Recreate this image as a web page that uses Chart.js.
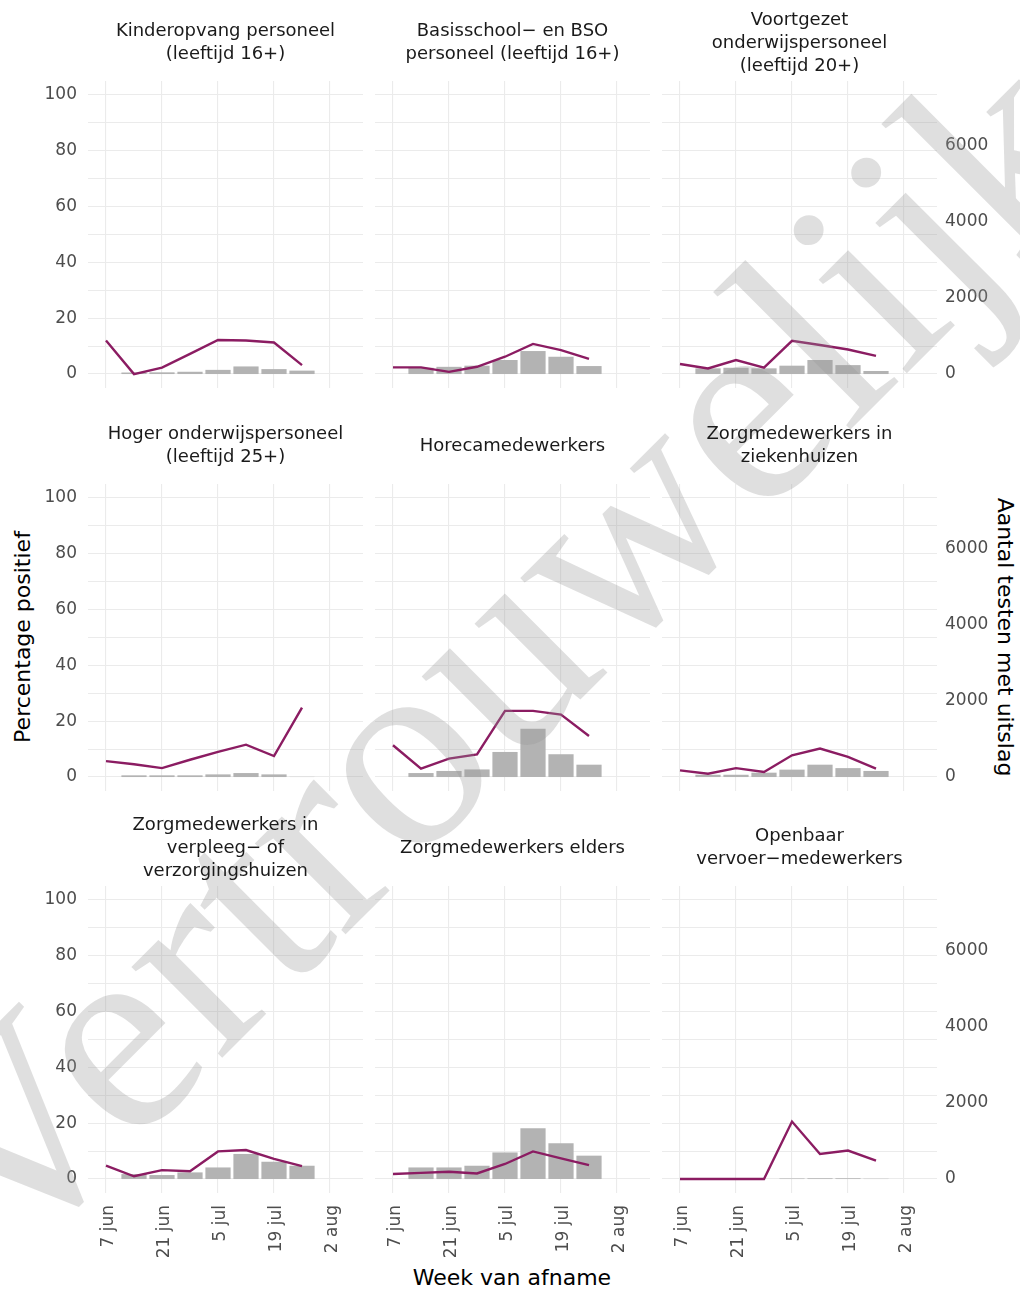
<!DOCTYPE html>
<html>
<head>
<meta charset="utf-8">
<script src="https://cdn.jsdelivr.net/npm/chart.js@4.4.1/dist/chart.umd.min.js"></script>
<style>
  body { margin: 0; background: #fff; width: 1020px; height: 1290px; position: relative; overflow: hidden; font-family: "DejaVu Sans", sans-serif; }
  canvas { position: absolute; }
  .strip { position: absolute; width: 320px; text-align: center; font-size: 18px; line-height: 23px; color: #1a1a1a; transform: translate(-50%, -50%); white-space: nowrap; }
  .axtitle { position: absolute; font-size: 22px; color: #000; white-space: nowrap; transform-origin: center; }
  #watermark { position: absolute; left: 0; top: 0; pointer-events: none; }
</style>
</head>
<body>
<div class="axtitle" style="left:22px; top:637px; transform: translate(-50%,-50%) rotate(-90deg);">Percentage positief</div>
<div class="axtitle" style="left:1005px; top:637px; transform: translate(-50%,-50%) rotate(90deg);">Aantal testen met uitslag</div>
<div class="axtitle" style="left:512px; top:1277px; transform: translate(-50%,-50%);">Week van afname</div>
<svg id="watermark" width="1020" height="1290">
  <text x="5" y="1275" transform="rotate(-45 5 1275)" font-family="Liberation Serif, Times New Roman, DejaVu Serif, serif" font-size="280" textLength="1571" lengthAdjust="spacingAndGlyphs" fill="rgba(150,150,150,0.3)">Vertrouwelijk</text>
</svg>
<script>
// weken in dagen na 7 juni
const weeks = [0, 7, 14, 21, 28, 35, 42, 49];
const xTickDays = [0, 14, 28, 42, 56];
const xTickLabels = ['7 jun', '21 jun', '5 jul', '19 jul', '2 aug'];
const pctGrid = [0, 10, 20, 30, 40, 50, 60, 70, 80, 90, 100];
const pctTicks = [0, 20, 40, 60, 80, 100];
const countTicks = [0, 2000, 4000, 6000];

const groups = [
  ['Kinderopvang personeel', '(leeftijd 16+)'],
  ['Basisschool\u2212 en BSO', 'personeel (leeftijd 16+)'],
  ['Voortgezet', 'onderwijspersoneel', '(leeftijd 20+)'],
  ['Hoger onderwijspersoneel', '(leeftijd 25+)'],
  ['Horecamedewerkers'],
  ['Zorgmedewerkers in', 'ziekenhuizen'],
  ['Zorgmedewerkers in', 'verpleeg\u2212 of', 'verzorgingshuizen'],
  ['Zorgmedewerkers elders'],
  ['Openbaar', 'vervoer\u2212medewerkers']
];

// percentage positief per week
const pctKinderopvang = [12.0, 0.0, 2.3, 7.2, 12.2, 12.0, 11.3, 3.2];
const pctBasisschool  = [2.4, 2.4, 0.8, 2.6, 6.2, 10.8, 8.6, 5.4];
const pctVoortgezet   = [3.6, 2.0, 5.0, 2.3, 11.9, 10.4, 8.8, 6.5];
const pctHoger        = [5.7, 4.6, 3.2, 6.2, 9.0, 11.6, 7.5, 24.9];
const pctHoreca       = [11.4, 3.0, 6.6, 8.1, 23.7, 23.7, 22.4, 14.7];
const pctZiekenhuis   = [2.4, 1.2, 3.2, 1.8, 7.8, 10.2, 7.2, 3.0];
const pctVVT          = [4.8, 1.0, 3.2, 2.8, 9.9, 10.4, 7.2, 4.6];
const pctZorgElders   = [1.8, 2.2, 2.6, 2.0, 5.4, 9.9, 7.4, 5.0];
const pctOV           = [0, 0, 0, 0, 20.6, 9.0, 10.2, 6.6];

// aantal testen met uitslag per week
const testsKinderopvang = [null, 40, 45, 60, 110, 200, 130, 90];
const testsBasisschool  = [null, 165, 190, 220, 370, 605, 455, 210];
const testsVoortgezet   = [null, 150, 165, 150, 220, 370, 235, 80];
const testsHoger        = [null, 45, 45, 45, 70, 105, 70, 5];
const testsHoreca       = [null, 105, 160, 200, 660, 1270, 600, 325];
const testsZiekenhuis   = [null, 60, 60, 115, 195, 325, 235, 160];
const testsVVT          = [null, 130, 105, 175, 305, 660, 455, 350];
const testsZorgElders   = [null, 305, 305, 350, 700, 1335, 940, 615];
const testsOV           = [null, 0, 0, 0, 15, 20, 20, 8];

const pctSeries = [pctKinderopvang, pctBasisschool, pctVoortgezet, pctHoger, pctHoreca, pctZiekenhuis, pctVVT, pctZorgElders, pctOV];
const testSeries = [testsKinderopvang, testsBasisschool, testsVoortgezet, testsHoger, testsHoreca, testsZiekenhuis, testsVVT, testsZorgElders, testsOV];

const FONT = 'DejaVu Sans';
const RATIO = 73.4; // tweede as: testen per procentpunt
const colLeft = [88, 375, 662];
const rowTop = [81, 484, 886];
const plotW = 275, plotH = 307, pad = 12;
const gridColor = '#ebebeb';

const noPad = s => { s.paddingTop = 0; s.paddingBottom = 0; s.paddingLeft = 0; s.paddingRight = 0; };

groups.forEach((title, i) => {
  const row = Math.floor(i / 3), col = i % 3;
  const axL = col === 0 ? 60 : 0;
  const axR = col === 2 ? 70 : 0;
  const axB = row === 2 ? 90 : 0;
  const w = plotW + 2 * pad + axL + axR;
  const h = plotH + 2 * pad + axB;

  const strip = document.createElement('div');
  strip.className = 'strip';
  strip.style.left = (colLeft[col] + plotW / 2) + 'px';
  strip.style.top = (rowTop[row] - 40) + 'px';
  strip.innerHTML = title.join('<br>');
  document.body.appendChild(strip);

  const canvas = document.createElement('canvas');
  canvas.width = w; canvas.height = h;
  canvas.style.width = w + 'px'; canvas.style.height = h + 'px';
  canvas.style.left = (colLeft[col] - pad - axL) + 'px';
  canvas.style.top = (rowTop[row] - pad) + 'px';
  document.body.insertBefore(canvas, document.getElementById('watermark'));

  new Chart(canvas, {
    data: {
      datasets: [
        {
          type: 'line',
          data: weeks.map((d, k) => ({ x: d, y: pctSeries[i][k] })),
          borderColor: '#8b1c62',
          borderWidth: 2.4,
          pointRadius: 0,
          tension: 0,
          yAxisID: 'y',
          order: 0
        },
        {
          type: 'bar',
          data: weeks.map((d, k) => ({ x: d, y: testSeries[i][k] })),
          backgroundColor: '#b3b3b3',
          barPercentage: 1,
          categoryPercentage: 0.9,
          yAxisID: 'y2',
          order: 1
        }
      ]
    },
    options: {
      responsive: false,
      animation: false,
      layout: { padding: { left: pad, right: pad, top: pad, bottom: pad } },
      plugins: { legend: { display: false }, tooltip: { enabled: false } },
      scales: {
        x: {
          type: 'linear',
          min: -4.5,
          max: 64.25,
          offset: false,
          grid: { color: gridColor, lineWidth: 1.1, drawTicks: false, offset: false },
          border: { display: false },
          afterBuildTicks: s => { s.ticks = xTickDays.map(v => ({ value: v })); },
          afterFit: s => { s.height = axB; noPad(s); },
          ticks: {
            display: row === 2,
            autoSkip: false,
            minRotation: 90,
            maxRotation: 90,
            padding: 12,
            labelOffset: 3,
            color: '#4d4d4d',
            font: { family: FONT, size: 17 },
            callback: v => xTickLabels[xTickDays.indexOf(v)]
          }
        },
        y: {
          position: 'left',
          min: -5,
          max: 105,
          grid: { color: gridColor, lineWidth: 1.1, drawTicks: false },
          border: { display: false },
          afterBuildTicks: s => { s.ticks = pctGrid.map(v => ({ value: v })); },
          afterFit: s => { s.width = axL; noPad(s); },
          ticks: {
            display: col === 0,
            padding: 11,
            color: '#4d4d4d',
            font: { family: FONT, size: 17 },
            callback: v => pctTicks.includes(v) ? v : ''
          }
        },
        y2: {
          position: 'right',
          display: col === 2,
          min: -5 * RATIO,
          max: 105 * RATIO,
          grid: { display: false, drawTicks: false },
          border: { display: false },
          afterBuildTicks: s => { s.ticks = countTicks.map(v => ({ value: v })); },
          afterFit: s => { s.width = axR; noPad(s); },
          ticks: {
            padding: 8,
            color: '#4d4d4d',
            font: { family: FONT, size: 17 },
            callback: v => v
          }
        }
      }
    }
  });
});
</script>
</body>
</html>
